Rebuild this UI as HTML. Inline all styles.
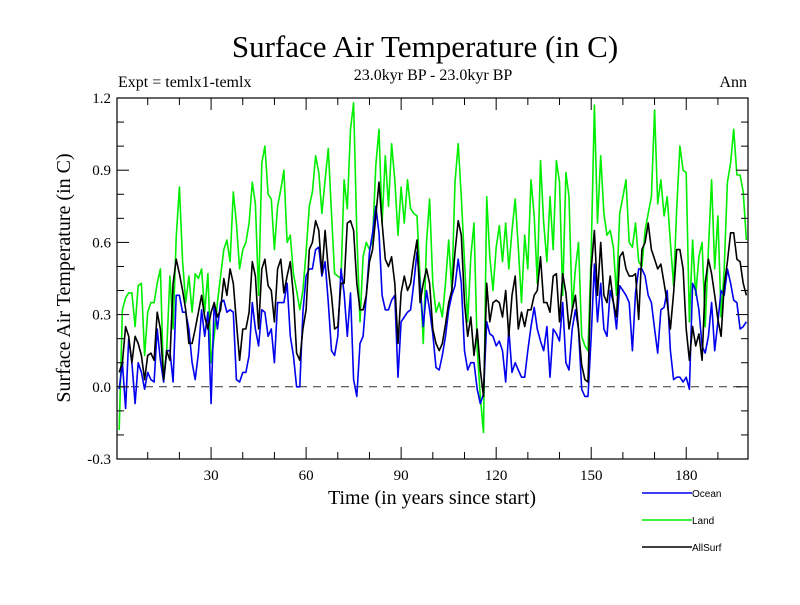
<!DOCTYPE html>
<html><head><meta charset="utf-8"><style>
body{margin:0;background:#fff}
svg text{font-family:"Liberation Serif",serif;fill:#000}
</style></head><body>
<svg id="chart" width="800" height="600" viewBox="0 0 800 600" xmlns="http://www.w3.org/2000/svg">
<rect width="800" height="600" fill="#fff"/>
<text x="425" y="57" font-size="31" text-anchor="middle">Surface Air Temperature (in C)</text>
<text x="433" y="80" font-size="16" text-anchor="middle">23.0kyr BP - 23.0kyr BP</text>
<text x="118" y="87" font-size="16">Expt = temlx1-temlx</text>
<text x="747" y="87" font-size="16" text-anchor="end">Ann</text>
<text transform="translate(70,278) rotate(-90)" font-size="20" text-anchor="middle">Surface Air Temperature (in C)</text>
<text x="432" y="504" font-size="20" text-anchor="middle">Time (in years since start)</text>
<g id="plot"></g>
<g id="legend"></g>
</svg>
<script>
const years = Array.from({length:199},(_,i)=>i+1);
const land = [-0.18,.32,.37,.39,.39,.25,.42,.43,.13,.31,.35,.35,.43,.49,.02,.15,.46,.24,.62,.83,.52,.35,.46,.31,.47,.45,.49,.31,.47,.10,.21,.35,.46,.57,.61,.52,.81,.68,.49,.57,.60,.68,.85,.76,.38,.93,1.0,.80,.78,.57,
.75,.82,.90,.60,.63,.47,.40,.32,.40,.56,.75,.81,.96,.89,.72,.86,.99,.72,.47,.46,.45,.86,.74,1.07,1.18,.64,.27,.54,.60,.57,.61,.92,1.07,.68,.96,.75,1.01,.86,.63,.83,.68,.86,.74,.72,.71,.45,.18,.60,.78,.43,
.31,.35,.29,.43,.61,.40,.85,1.01,.79,.52,.27,.54,.68,.16,-.04,-.19,.79,.54,.40,.58,.67,.52,.68,.49,.65,.78,.58,.35,.63,.49,.86,.71,.43,.94,.68,.52,.79,.57,.94,.85,.38,.89,.79,.32,.49,.60,.21,.17,.15,.56,
1.17,.68,.96,.72,.63,.65,.58,.38,.72,.79,.86,.60,.58,.68,.52,.50,.65,.72,.79,1.15,.76,.86,.71,.79,.60,.42,.74,1.0,.90,.89,.27,.61,.38,.54,.60,.25,.57,.86,.49,.71,.29,.49,.85,.93,1.07,.88,.88,.81,.61];
const allsurf = [.06,.10,.25,.21,.10,.21,.18,.13,.03,.13,.14,.11,.31,.24,.03,.15,.11,.43,.53,.47,.40,.32,.18,.18,.24,.31,.38,.29,.24,.31,.35,.29,.32,.45,.38,.49,.43,.27,.11,.24,.24,.31,.52,.46,.24,.49,.53,.42,.40,.27,
.49,.53,.39,.46,.52,.38,.14,.11,.24,.32,.57,.60,.69,.65,.47,.65,.49,.38,.24,.25,.43,.43,.68,.69,.65,.43,.32,.32,.38,.52,.57,.71,.85,.68,.53,.50,.54,.43,.18,.39,.46,.40,.43,.53,.61,.35,.43,.49,.43,.24,
.18,.15,.18,.26,.35,.40,.56,.69,.63,.35,.21,.29,.13,.24,.07,-.04,.43,.27,.35,.36,.35,.29,.40,.21,.38,.46,.24,.31,.25,.32,.32,.38,.40,.54,.35,.35,.31,.46,.47,.27,.47,.39,.24,.32,.38,.24,.09,.03,.02,.49,
.65,.38,.60,.38,.35,.46,.35,.29,.54,.56,.49,.46,.46,.47,.28,.57,.60,.68,.57,.53,.49,.51,.43,.35,.24,.39,.57,.57,.49,.24,.11,.25,.17,.22,.11,.43,.53,.47,.38,.28,.21,.42,.52,.64,.64,.53,.52,.43,.38];
const ocean = [-.01,.10,-.09,.20,.10,-.07,.10,.06,-.01,.06,.03,.02,.24,.11,.02,.15,.15,.02,.38,.38,.31,.31,.24,.10,.03,.14,.32,.21,.31,-.07,.35,.24,.35,.36,.31,.32,.31,.03,.02,.06,.06,.13,.35,.24,.17,.32,.31,.21,.24,.10,
.35,.35,.35,.43,.21,.13,.0,.0,.31,.46,.49,.49,.57,.58,.46,.52,.35,.15,.13,.21,.49,.39,.21,.39,.03,-.04,.18,.21,.38,.56,.64,.75,.64,.38,.32,.32,.36,.38,.04,.27,.29,.31,.32,.43,.56,.42,.25,.40,.32,.22,
.08,.07,.13,.21,.32,.38,.42,.53,.43,.15,.07,.10,.10,-.01,-.07,-.03,.27,.22,.21,.17,.19,.15,.02,.24,.06,.10,.07,.04,.04,.15,.25,.33,.24,.19,.15,.25,.04,.24,.22,.19,.35,.10,.07,.24,.32,.24,-.01,-.04,-.04,.21,
.51,.27,.43,.24,.21,.40,.35,.24,.42,.40,.38,.35,.15,.39,.49,.49,.46,.38,.35,.24,.14,.32,.33,.40,.15,.03,.04,.04,.02,.04,-.01,.43,.40,.32,.17,.14,.21,.35,.15,.27,.40,.38,.49,.43,.36,.35,.24,.25,.27];
const xTicks = [30,60,90,120,150,180];
const yTicks = [-0.3,0.0,0.3,0.6,0.9,1.2];
const yTickLabels = ["-0.3","0.0","0.3","0.6","0.9","1.2"];

const X0=117,X1=748,Y0=98,Y1=459;
const xMin=0.3,xMax=199.5,yMin=-0.3,yMax=1.2;
const sx=v=>X0+(v-xMin)/(xMax-xMin)*(X1-X0);
const sy=v=>Y1-(v-yMin)/(yMax-yMin)*(Y1-Y0);
const NS="http://www.w3.org/2000/svg";
const plot=document.getElementById('plot');
function mk(tag,attrs,parent){const e=document.createElementNS(NS,tag);for(const k in attrs)e.setAttribute(k,attrs[k]);parent.appendChild(e);return e;}

const zero=mk('line',{x1:X0,x2:X1,y1:sy(0),y2:sy(0),stroke:'#333','stroke-width':1,'stroke-dasharray':'8,6'},plot);



function series(vals,color,name){
  const d=vals.map((v,i)=>(i?'L':'M')+sx(years[i]).toFixed(1)+','+sy(v).toFixed(1)).join('');
  const p=mk('path',{d:d,fill:'none',stroke:color,'stroke-width':1.6,'stroke-linejoin':'round'},plot);
  
  
}
series(land,'#00ee00','land-line');
series(ocean,'#0000ee','ocean-line');
series(allsurf,'#000000','allsurf-line');

const frame=mk('rect',{x:X0,y:Y0,width:X1-X0,height:Y1-Y0,fill:'none',stroke:'#000','stroke-width':1.2},plot);



for(let t=10;t<=190;t+=10){
  const L=(t%30===0)?12:7;
  const x=sx(t);
  mk('line',{x1:x,x2:x,y1:Y1,y2:Y1-L,stroke:'#000'},plot);
  mk('line',{x1:x,x2:x,y1:Y0,y2:Y0+L,stroke:'#000'},plot);
}
for(let k=-3;k<=12;k++){
  const v=k/10,L=(k%3===0)?12:7,y=sy(v);
  mk('line',{x1:X0,x2:X0+L,y1:y,y2:y,stroke:'#000'},plot);
  mk('line',{x1:X1,x2:X1-L,y1:y,y2:y,stroke:'#000'},plot);
}
xTicks.forEach(t=>{
  const tx=mk('text',{x:sx(t),y:Y1+21,'font-size':15,'text-anchor':'middle'},plot);
  tx.textContent=t;
  
  
});
yTicks.forEach((v,i)=>{
  const ty=mk('text',{x:X0-6,y:sy(v)+5,'font-size':15,'text-anchor':'end'},plot);
  ty.textContent=yTickLabels[i];
  
  
});

const legend=document.getElementById('legend');
[['Ocean','#0000ee',493],['Land','#00ee00',520],['AllSurf','#000',547]].forEach(([n,c,y])=>{
  const g=mk('g',{},legend);
  
  
  mk('line',{x1:642,x2:692,y1:y,y2:y,stroke:c,'stroke-width':1.5},g);
  const t=mk('text',{x:692,y:y+4,'font-size':10,style:'font-family:"Liberation Sans",sans-serif'},g);
  t.textContent=n;
});
</script>
</body></html>
